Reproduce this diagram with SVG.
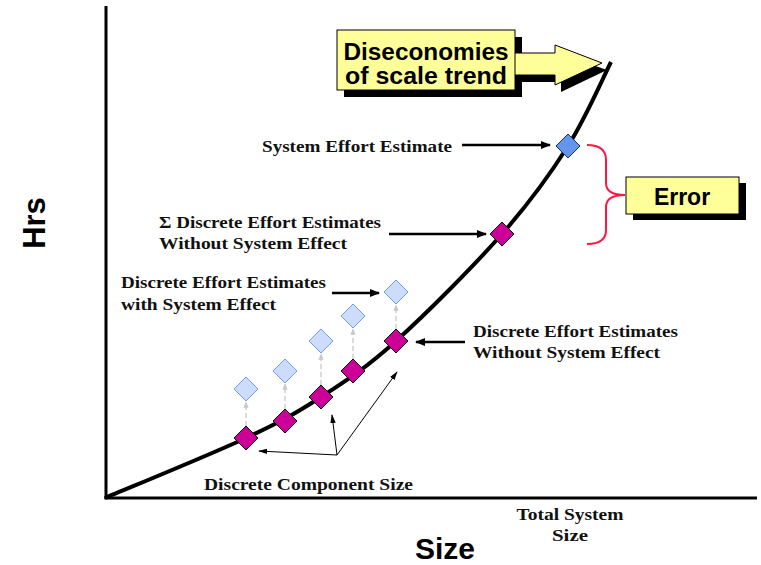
<svg xmlns="http://www.w3.org/2000/svg" width="761" height="565" viewBox="0 0 761 565">
<defs>
<style>
.lbl{font-family:"Liberation Serif","Times New Roman",serif;font-weight:bold;font-size:17px;fill:#111}
.big{font-family:"Liberation Sans",Arial,sans-serif;font-weight:bold;fill:#000}
.mag{fill:#cc0099;stroke:#000;stroke-width:1}
.lb{fill:#cddcfb;stroke:#6f9cf5;stroke-width:1}
.dash{stroke:#c8c8c8;stroke-width:1.3;stroke-dasharray:5,3;fill:none}
.arr{stroke:#000;stroke-width:2.5;fill:none}
.thin{stroke:#000;stroke-width:1;fill:none}
.yel{fill:#ffff99;stroke:#000;stroke-width:1}
</style>
<marker id="ah" viewBox="0 0 10 10" refX="9" refY="5" markerWidth="4" markerHeight="4" orient="auto" markerUnits="strokeWidth"><path d="M0,1 L10,5 L0,9 Z" fill="#000"/></marker>
<marker id="ahs" viewBox="0 0 10 10" refX="9" refY="5" markerWidth="9" markerHeight="9" orient="auto" markerUnits="strokeWidth"><path d="M0,2 L10,5 L0,8 Z" fill="#000"/></marker>
<marker id="ahg" viewBox="0 0 10 10" refX="9" refY="5" markerWidth="5" markerHeight="5" orient="auto" markerUnits="strokeWidth"><path d="M0,1 L10,5 L0,9 Z" fill="#c8c8c8"/></marker>
</defs>
<rect width="761" height="565" fill="#fff"/>

<g id="axes">
<line x1="106" y1="6" x2="106" y2="499" stroke="#000" stroke-width="3"/>
<line x1="104.5" y1="498" x2="757" y2="498" stroke="#000" stroke-width="3"/>
<path d="M105,498 C128.5,488 210,454.8 246,438 C282,421.2 296,413.2 321,397 C346,380.8 365.8,368.2 396,341 C426.2,313.8 473.3,266.5 502,234 C530.7,201.5 549.8,174.7 568,146 C586.2,117.3 603.8,76 611,62" fill="none" stroke="#000" stroke-width="4"/>
</g>

<g id="connectors">
<line class="arr" x1="462" y1="145" x2="550" y2="145" marker-end="url(#ah)"/>
<line class="arr" x1="389" y1="234" x2="486" y2="234" marker-end="url(#ah)"/>
<line class="arr" x1="332" y1="293" x2="379" y2="293" marker-end="url(#ah)"/>
<line class="arr" x1="465" y1="342" x2="416" y2="342" marker-end="url(#ah)"/>
<line class="thin" x1="337" y1="455" x2="259" y2="451" marker-end="url(#ahs)"/>
<line class="thin" x1="337" y1="455" x2="332" y2="415" marker-end="url(#ahs)"/>
<line class="thin" x1="337" y1="455" x2="397" y2="372" marker-end="url(#ahs)"/>
<line class="dash" x1="246" y1="426" x2="246" y2="402" marker-end="url(#ahg)"/>
<line class="dash" x1="285" y1="409" x2="285" y2="384" marker-end="url(#ahg)"/>
<line class="dash" x1="321" y1="385" x2="321" y2="354" marker-end="url(#ahg)"/>
<line class="dash" x1="353" y1="359" x2="353" y2="329" marker-end="url(#ahg)"/>
<line class="dash" x1="396" y1="329" x2="396" y2="305" marker-end="url(#ahg)"/>
<path d="M587,145 Q606,145 606,160 L606,183 Q606,195 625,195 Q606,195 606,207 L606,230 Q606,244 587,244" fill="none" stroke="#ff1744" stroke-width="2"/>
</g>

<g id="discrete-without">
<path class="mag" d="M246,426 L258,438 L246,450 L234,438 Z"/>
<path class="mag" d="M285,409 L297,421 L285,433 L273,421 Z"/>
<path class="mag" d="M321,385 L333,397 L321,409 L309,397 Z"/>
<path class="mag" d="M353,359 L365,371 L353,383 L341,371 Z"/>
<path class="mag" d="M396,329 L408,341 L396,353 L384,341 Z"/>
</g>
<g id="discrete-with">
<path class="lb" d="M246,377 L258,389 L246,401 L234,389 Z"/>
<path class="lb" d="M285,359 L297,371 L285,383 L273,371 Z"/>
<path class="lb" d="M321,329 L333,341 L321,353 L309,341 Z"/>
<path class="lb" d="M353,304 L365,316 L353,328 L341,316 Z"/>
<path class="lb" d="M396,280 L408,292 L396,304 L384,292 Z"/>
</g>
<g id="sum-node"><path class="mag" d="M502,222 L514,234 L502,246 L490,234 Z"/></g>
<g id="system-node"><path d="M568,134 L580,146 L568,158 L556,146 Z" fill="#6495ed" stroke="#1a2f6b" stroke-width="1"/></g>

<g id="diseconomies">
<path d="M521,60 L561,60 L561,54 L607,70 L561,92 L561,82 L521,82 Z" fill="#000"/>
<rect x="344" y="37" width="178" height="60" fill="#000"/>
<path class="yel" d="M510,53 L555,53 L555,45 L602,63 L555,85 L555,75 L510,75 Z"/>
<rect class="yel" x="337" y="30" width="178" height="60"/>
<text class="big" x="426" y="60" font-size="23" text-anchor="middle" textLength="165" lengthAdjust="spacingAndGlyphs">Diseconomies</text>
<text class="big" x="426" y="84" font-size="23" text-anchor="middle" textLength="162" lengthAdjust="spacingAndGlyphs">of scale trend</text>
</g>

<g id="error">
<rect x="633" y="183" width="113" height="37" fill="#000"/>
<rect class="yel" x="626" y="177" width="113" height="37"/>
<text class="big" x="682" y="205" font-size="23" text-anchor="middle">Error</text>
</g>

<g id="labels">
<text class="lbl" x="262" y="152" textLength="190" lengthAdjust="spacingAndGlyphs">System Effort Estimate</text>
<text class="lbl" x="159" y="228" textLength="222" lengthAdjust="spacingAndGlyphs">Σ Discrete Effort Estimates</text>
<text class="lbl" x="159" y="249" textLength="188" lengthAdjust="spacingAndGlyphs">Without System Effect</text>
<text class="lbl" x="121" y="288" textLength="205" lengthAdjust="spacingAndGlyphs">Discrete Effort Estimates</text>
<text class="lbl" x="121" y="310" textLength="155" lengthAdjust="spacingAndGlyphs">with System Effect</text>
<text class="lbl" x="473" y="337" textLength="205" lengthAdjust="spacingAndGlyphs">Discrete Effort Estimates</text>
<text class="lbl" x="473" y="358" textLength="187" lengthAdjust="spacingAndGlyphs">Without System Effect</text>
<text class="lbl" x="204" y="490" textLength="209" lengthAdjust="spacingAndGlyphs">Discrete Component Size</text>
<text class="lbl" x="570" y="520" text-anchor="middle" textLength="107" lengthAdjust="spacingAndGlyphs">Total System</text>
<text class="lbl" x="570" y="541" text-anchor="middle" textLength="36" lengthAdjust="spacingAndGlyphs">Size</text>
<text class="big" x="445" y="559" font-size="30" text-anchor="middle">Size</text>
<text class="big" transform="translate(45,223) rotate(-90)" font-size="31" text-anchor="middle">Hrs</text>
</g>
</svg>
